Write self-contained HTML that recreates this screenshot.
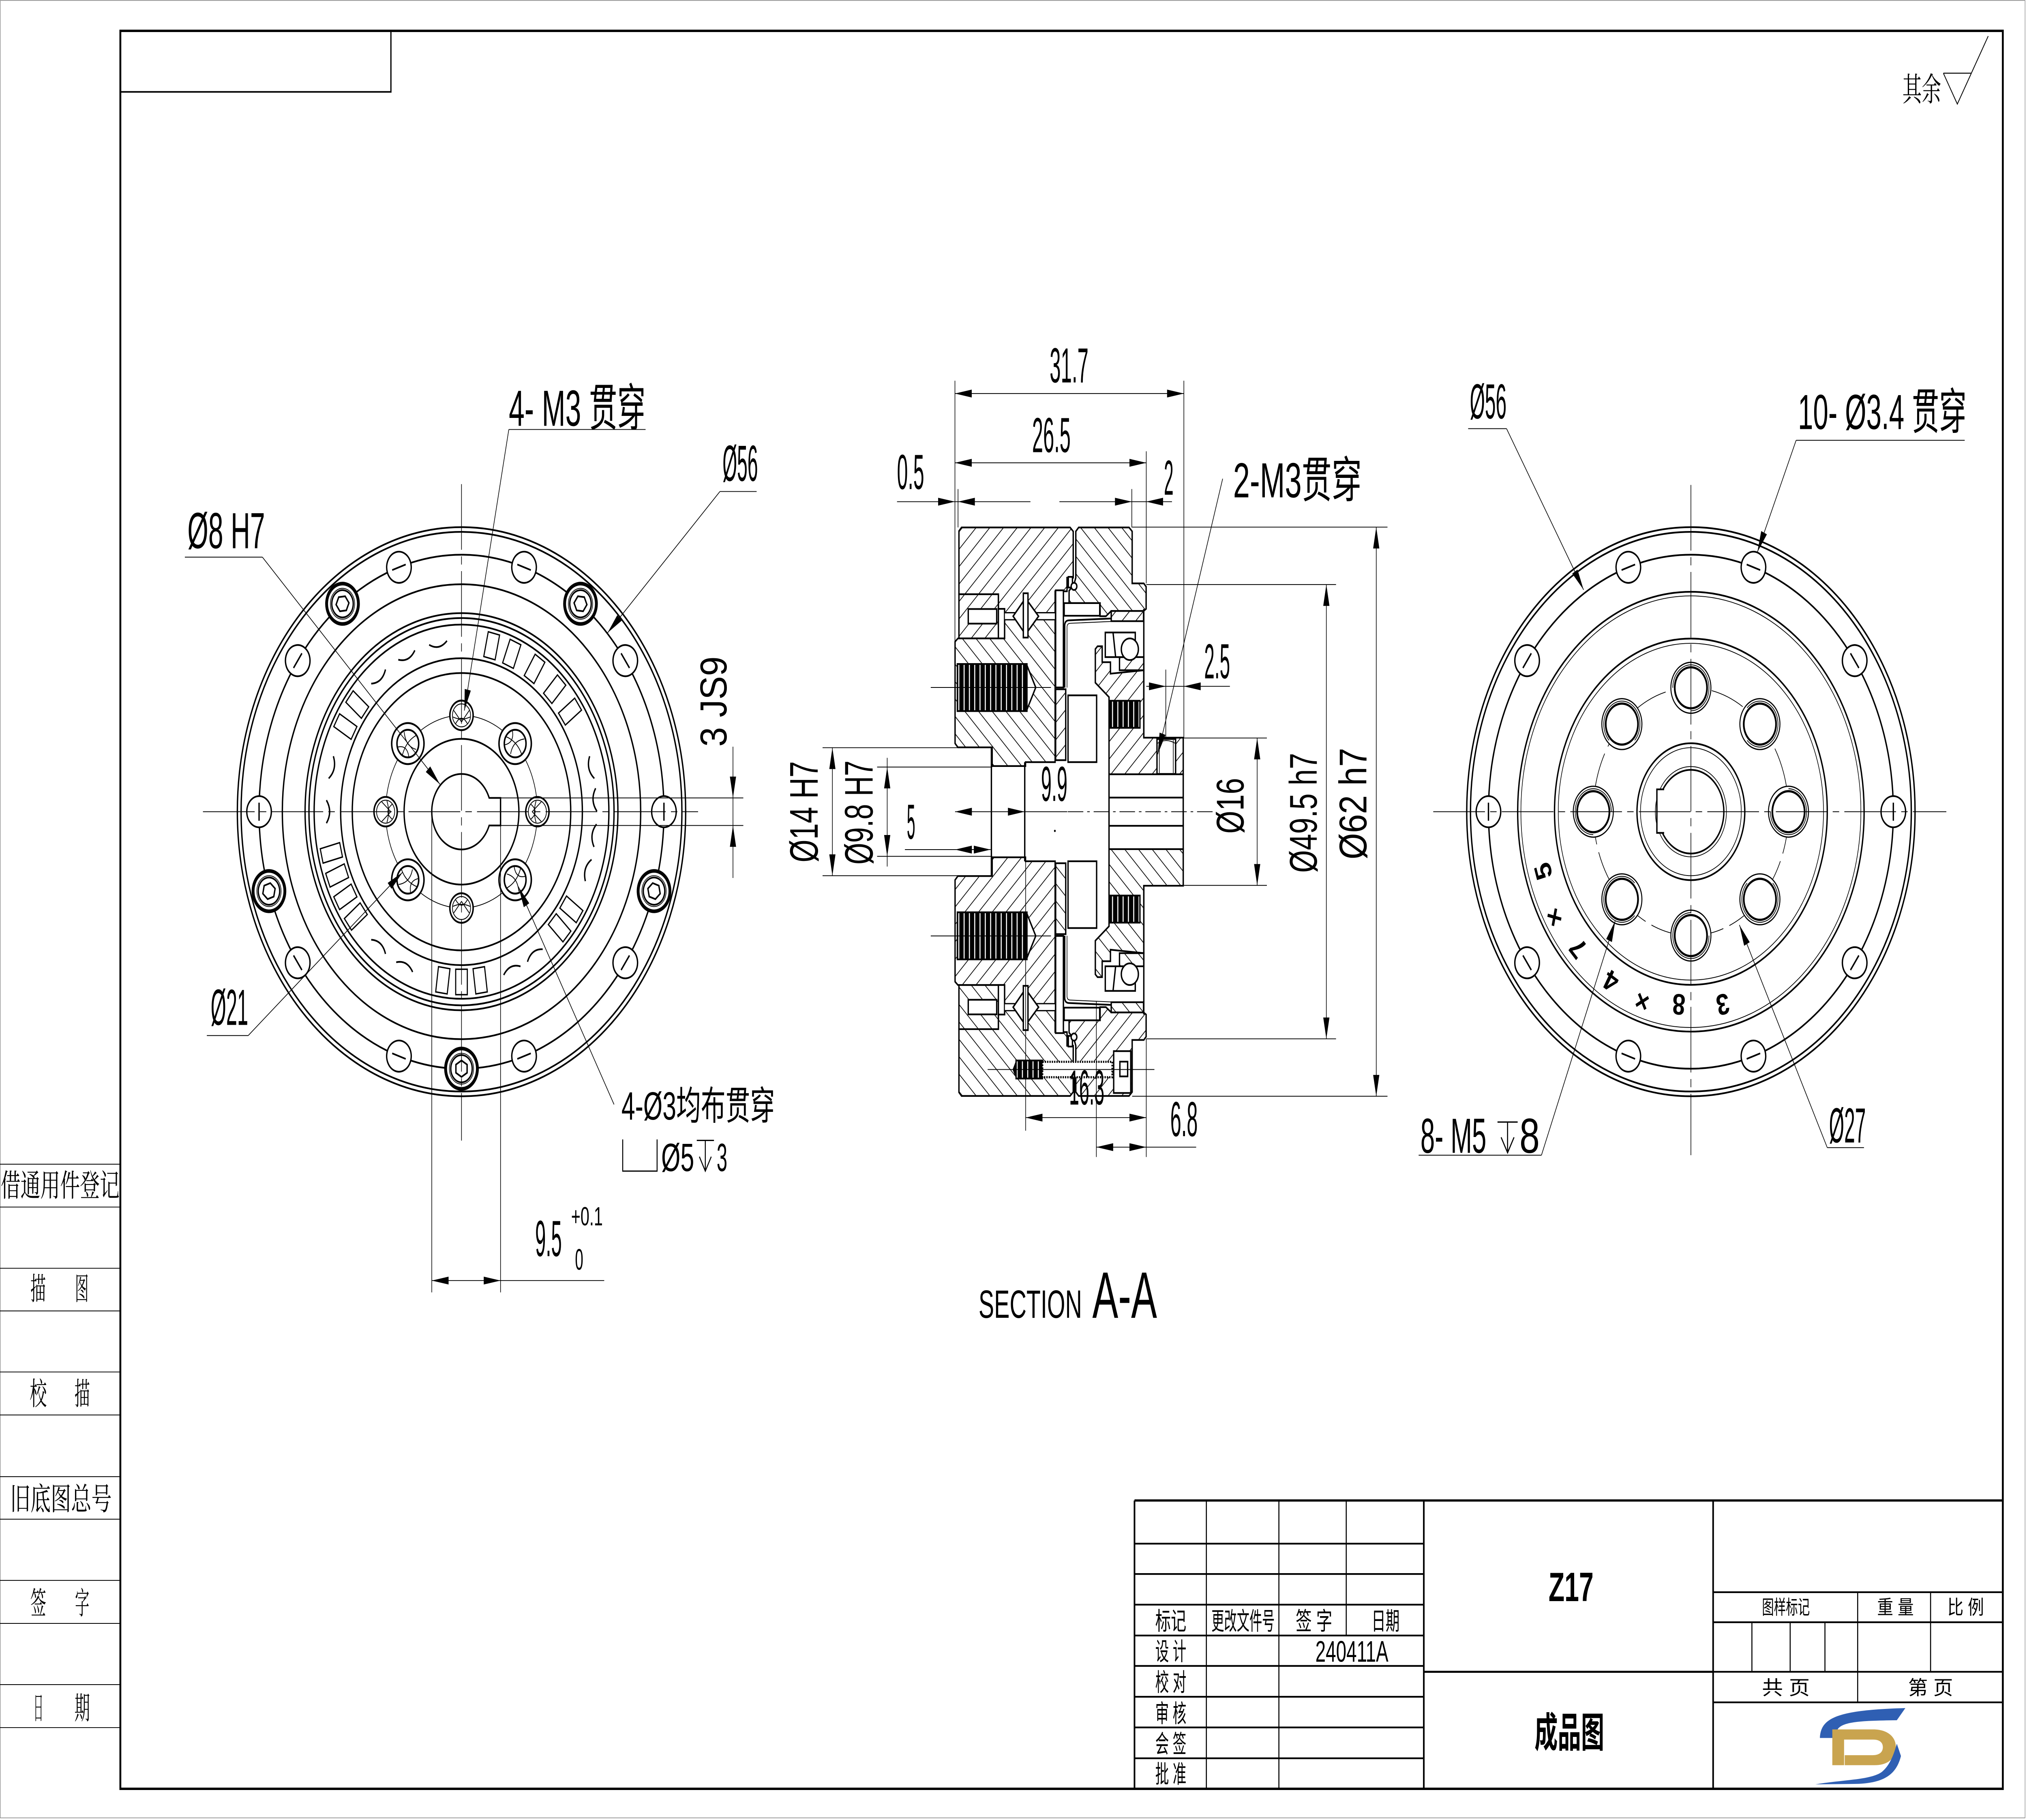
<!DOCTYPE html>
<html><head><meta charset="utf-8"><title>Z17 成品图</title>
<style>
html,body{margin:0;padding:0;background:#fff;width:100%;height:100%;overflow:hidden}
svg{display:block;width:100vw;height:100vh}
.k{stroke:#000;stroke-width:1.05}
.t{stroke:#000;stroke-width:0.48}
.c{stroke:#000;stroke-width:0.48;stroke-dasharray:40 4 5 4}
text{font-family:"Liberation Sans","Noto Sans CJK SC",sans-serif;fill:#000}
.s{font-family:"Noto Serif CJK SC","Liberation Serif",serif}
.j{font-family:"Liberation Sans","Noto Sans CJK SC",sans-serif}
.b{font-weight:bold}
</style></head><body>
<svg xmlns="http://www.w3.org/2000/svg" viewBox="0 0 1568 1109" preserveAspectRatio="none">
<defs>
<pattern id="hA" patternUnits="userSpaceOnUse" width="7.5" height="7.5" patternTransform="rotate(45)"><rect width="7.5" height="7.5" fill="#fff"/><line x1="3.75" y1="0" x2="3.75" y2="7.5" stroke="#000" stroke-width="0.5"/></pattern>
<pattern id="hB" patternUnits="userSpaceOnUse" width="7.5" height="7.5" patternTransform="rotate(-45)"><rect width="7.5" height="7.5" fill="#fff"/><line x1="3.75" y1="0" x2="3.75" y2="7.5" stroke="#000" stroke-width="0.5"/></pattern>
<pattern id="thr" patternUnits="userSpaceOnUse" width="4.1" height="60"><rect width="4.1" height="60" fill="#000"/><rect x="3.3" width="0.8" height="60" fill="#fff"/></pattern>
<g id="hole"><circle r="9.5" fill="#fff" stroke="#000" stroke-width="1.05"/><line x1="0" y1="-5.5" x2="0" y2="5.5" stroke="#000" stroke-width="1.05"/></g>
<g id="bolt"><circle r="12.3" fill="#fff" stroke="#000" stroke-width="2.2"/><circle r="9.4" fill="none" stroke="#000" stroke-width="0.5"/><circle r="8.3" fill="none" stroke="#000" stroke-width="1.05"/><polygon points="5,0 2.5,4.33 -2.5,4.33 -5,0 -2.5,-4.33 2.5,-4.33" fill="none" stroke="#000" stroke-width="1.05"/></g>
<g id="m3h"><circle r="9" fill="#fff" stroke="#000" stroke-width="1.15"/><circle r="7" fill="none" stroke="#000" stroke-width="0.55"/><path d="M-5,-4.5 Q1.5,0 -5,4.5 M-1,-6.6 Q-3.5,0 -1,6.6 M3,-6 L-4,0 L3,6" fill="none" stroke="#000" stroke-width="0.55"/></g>
<g id="cbh"><circle r="12.5" fill="#fff" stroke="#000" stroke-width="1.15"/><circle r="8.4" fill="none" stroke="#000" stroke-width="1.15"/><path d="M-6,-5 Q0,-1 4,-7 M-7,2 Q0,-2.5 7,3 M-2,-8 Q2,0 -1,8" fill="none" stroke="#000" stroke-width="0.55"/></g>
<rect id="rol" x="96" y="-4.5" width="15.5" height="9" fill="#fff" stroke="#000" stroke-width="0.85"/>
<path id="arq" d="M104.5,-7 Q99.5,0 104.5,7" fill="none" stroke="#000" stroke-width="1.05"/>
<g id="m5h"><circle r="15.5" fill="#fff" stroke="#000" stroke-width="0.75"/><circle r="12.5" fill="none" stroke="#000" stroke-width="1.35"/><path d="M0,-14 A14,14 0 1 1 -14,0" fill="none" stroke="#000" stroke-width="0.5"/></g>

<g id="st">
<path d="M741.8,323.6 L743.8,321.4 L827.8,321.4 L830.2,323.8 L830.2,352 L825.4,352 L825.4,360.3 L816.2,360.3 L816.2,373.5 L777.1,373.5 L777.1,371 L772.3,371 L772.3,362.1 L741.8,362.1 Z" fill="url(#hA)" class="k"/>
<rect x="741.8" y="362.1" width="30.5" height="26.9" fill="url(#hA)" class="k"/>
<rect x="749" y="371.1" width="22" height="8.9" fill="#fff" class="k"/>
<path d="M738.8,391 L741,389 L777.1,389 L777.1,377.5 L816.2,377.5 L816.2,464.4 L793.3,464.4 L793.3,466.8 L767.5,466.8 L767.5,455.4 L741,455.4 L738.8,453 Z" fill="url(#hB)" class="k"/>
<rect x="772.3" y="371" width="4.8" height="18" fill="#fff" class="k"/>
<rect x="777.1" y="373.5" width="39.1" height="4" fill="#fff" class="t"/>
<polygon points="783.7,375.5 793.3,364.5 803.4,375.5 793.3,386.6" fill="#fff" class="k"/>
<rect x="791.6" y="361.5" width="3.6" height="27" fill="#fff" class="k"/>
<rect x="740.6" y="404.6" width="53.8" height="28.7" fill="url(#thr)" class="k"/>
<polygon points="794.4,405.5 801.2,418.9 794.4,432.4" fill="#fff" class="k"/>
<path d="M832.2,323.8 L834.4,321.4 L873.4,321.4 L875.8,323.8 L875.8,355.5 L884.8,355.5 L886.6,357.5 L886.6,371 L884.6,372.3 L859.6,372.3 L855.5,375.5 L851,375.5 L851,367.5 L827,367.5 L827,360 L830.8,356 L832.2,352 Z" fill="url(#hB)" class="k"/>
<rect x="826.4" y="351.5" width="3.2" height="6.5" fill="#fff" class="k"/>
<circle cx="830.8" cy="357.3" r="2.2" fill="#fff" class="k"/>
<rect x="816.6" y="359.7" width="6" height="59.2" fill="#fff" class="k"/>
<rect x="816.6" y="420" width="7.8" height="43.2" fill="url(#hA)" class="k"/>
<rect x="823.2" y="367.5" width="27.5" height="7.7" fill="#fff" class="k"/>
<path d="M823.6,419 L823.6,381 Q823.8,378 827,378 L884.6,376" fill="none" class="k"/>
<path d="M825.4,419 L825.4,382 Q825.6,379.8 828,379.8 L884.6,377.8" fill="none" class="t"/>
<path d="M847.3,395.5 L849,393.8 L852.6,393.8 L852.6,403.5 L859,403.5 L859,410.5 L884.8,408.4 L884.8,449.5 L915.3,449.5 L915.3,471.8 L857.9,471.8 L857.9,424.8 L847.3,416 Z" fill="url(#hA)" class="k"/>
<rect x="858" y="427" width="23.8" height="16.5" fill="url(#thr)" class="k"/>
<rect x="859.6" y="372.3" width="25" height="6.2" fill="url(#hA)" class="k"/>
<rect x="866" y="400.4" width="18.8" height="8" fill="url(#hA)" class="k"/>
<rect x="855" y="385.4" width="23.2" height="15" fill="#fff" class="k"/>
<line x1="861" y1="385.4" x2="863" y2="400.4" class="k"/>
<circle cx="874" cy="395.6" r="6.6" fill="#fff" class="k"/>
<line x1="884.8" y1="371" x2="884.8" y2="449.5" class="k"/>
<rect x="826.2" y="423.7" width="22.1" height="40.7" fill="#fff" class="k"/>
<rect x="857.9" y="471.8" width="57.4" height="14.2" fill="#fff" class="k"/>
<line x1="766.9" y1="455.4" x2="766.9" y2="494.6" class="k"/>
<line x1="792.7" y1="464.4" x2="792.7" y2="494.6" class="k"/>
<line x1="857.9" y1="486" x2="857.9" y2="494.6" class="k"/>
<line x1="915.3" y1="486" x2="915.3" y2="494.6" class="k"/>
</g>
</defs>

<g fill="none">
<rect x="0.2" y="0.3" width="1566.3" height="1107.4" stroke="#777" stroke-width="0.35"/>
<rect x="93.1" y="18.8" width="1456.2" height="1071.2" stroke="#000" stroke-width="1.45"/>
<path d="M93.1,56 L302.4,56 L302.4,18.8" stroke="#000" stroke-width="0.95"/>

<g class="t" stroke-width="0.55">
<line x1="0" y1="709.4" x2="93" y2="709.4"/><line x1="0" y1="735.5" x2="93" y2="735.5"/>
<line x1="0" y1="772.8" x2="93" y2="772.8"/><line x1="0" y1="798.8" x2="93" y2="798.8"/>
<line x1="0" y1="836" x2="93" y2="836"/><line x1="0" y1="862.2" x2="93" y2="862.2"/>
<line x1="0" y1="899.8" x2="93" y2="899.8"/><line x1="0" y1="925.7" x2="93" y2="925.7"/>
<line x1="0" y1="963" x2="93" y2="963"/><line x1="0" y1="989.2" x2="93" y2="989.2"/>
<line x1="0" y1="1026.5" x2="93" y2="1026.5"/><line x1="0" y1="1052.7" x2="93" y2="1052.7"/>
</g>
<text class="s" x="0.5" y="729" font-size="19" textLength="92" lengthAdjust="spacingAndGlyphs">借通用件登记</text>
<text class="s" x="23.5" y="792" font-size="19" textLength="12" lengthAdjust="spacingAndGlyphs">描</text>
<text class="s" x="58" y="792" font-size="19" textLength="10.5" lengthAdjust="spacingAndGlyphs">图</text>
<text class="s" x="23" y="856" font-size="19" textLength="13.2" lengthAdjust="spacingAndGlyphs">校</text>
<text class="s" x="57.6" y="856" font-size="19" textLength="12" lengthAdjust="spacingAndGlyphs">描</text>
<text class="s" x="7.8" y="920" font-size="19" textLength="78.6" lengthAdjust="spacingAndGlyphs">旧底图总号</text>
<text class="s" x="23.5" y="983.5" font-size="19" textLength="12.3" lengthAdjust="spacingAndGlyphs">签</text>
<text class="s" x="58" y="983.5" font-size="19" textLength="11.1" lengthAdjust="spacingAndGlyphs">字</text>
<text class="s" x="25.9" y="1047.5" font-size="19" textLength="7.6" lengthAdjust="spacingAndGlyphs">日</text>
<text class="s" x="57.6" y="1047.5" font-size="19" textLength="12" lengthAdjust="spacingAndGlyphs">期</text>

<text class="s" x="1471.6" y="61.5" font-size="20" textLength="30" lengthAdjust="spacingAndGlyphs">其余</text>
<path d="M1503.3,44.6 L1524.8,44.6 M1503.3,44.6 L1514.1,63.4 L1538,22" stroke="#000" stroke-width="0.6"/>

<!-- LEFT VIEW -->
<g>
<circle cx="357" cy="494.6" r="173.4" class="k" stroke-width="1.2"/>
<circle cx="357" cy="494.6" r="170.5" class="k" stroke-width="1.15"/>
<circle cx="357" cy="494.6" r="156.6" class="k" stroke-width="0.8"/>
<circle cx="357" cy="494.6" r="138.6" class="k"/>
<circle cx="357" cy="494.6" r="121" class="k" stroke-width="1.15"/>
<circle cx="357" cy="494.6" r="118" class="k" stroke-width="1.15"/>
<circle cx="357" cy="494.6" r="114" class="k" stroke-width="1.55"/>
<circle cx="357" cy="494.6" r="93.5" class="k"/>
<circle cx="357" cy="494.6" r="84.5" class="k" stroke-width="1.45"/>
<circle cx="357" cy="494.6" r="58.7" class="t" stroke-width="0.65"/>
<circle cx="357" cy="494.6" r="44.4" class="k" stroke-width="1.45"/>
<use href="#rol" transform="translate(357 494.6) rotate(210)"/>
<use href="#rol" transform="translate(357 494.6) rotate(219)"/>
<use href="#rol" transform="translate(357 494.6) rotate(283)"/>
<use href="#rol" transform="translate(357 494.6) rotate(292)"/>
<use href="#rol" transform="translate(357 494.6) rotate(303)"/>
<use href="#rol" transform="translate(357 494.6) rotate(314)"/>
<use href="#rol" transform="translate(357 494.6) rotate(324)"/>
<use href="#rol" transform="translate(357 494.6) rotate(35)"/>
<use href="#rol" transform="translate(357 494.6) rotate(43)"/>
<use href="#rol" transform="translate(357 494.6) rotate(82)"/>
<use href="#rol" transform="translate(357 494.6) rotate(90)"/>
<use href="#rol" transform="translate(357 494.6) rotate(98)"/>
<use href="#rol" transform="translate(357 494.6) rotate(142)"/>
<use href="#rol" transform="translate(357 494.6) rotate(150)"/>
<use href="#rol" transform="translate(357 494.6) rotate(158)"/>
<use href="#rol" transform="translate(357 494.6) rotate(166)"/>
<use href="#arq" transform="translate(357 494.6) rotate(180)"/>
<use href="#arq" transform="translate(357 494.6) rotate(195)"/>
<use href="#arq" transform="translate(357 494.6) rotate(232)"/>
<use href="#arq" transform="translate(357 494.6) rotate(246)"/>
<use href="#arq" transform="translate(357 494.6) rotate(260)"/>
<use href="#arq" transform="translate(357 494.6) rotate(345)"/>
<use href="#arq" transform="translate(357 494.6) rotate(356)"/>
<use href="#arq" transform="translate(357 494.6) rotate(8)"/>
<use href="#arq" transform="translate(357 494.6) rotate(20)"/>
<use href="#arq" transform="translate(357 494.6) rotate(57)"/>
<use href="#arq" transform="translate(357 494.6) rotate(68)"/>
<use href="#arq" transform="translate(357 494.6) rotate(115)"/>
<use href="#arq" transform="translate(357 494.6) rotate(128)"/>
<use href="#hole" transform="rotate(0 357 494.6) translate(513.6 494.6)"/>
<use href="#hole" transform="rotate(36 357 494.6) translate(513.6 494.6)"/>
<use href="#hole" transform="rotate(72 357 494.6) translate(513.6 494.6)"/>
<use href="#hole" transform="rotate(108 357 494.6) translate(513.6 494.6)"/>
<use href="#hole" transform="rotate(144 357 494.6) translate(513.6 494.6)"/>
<use href="#hole" transform="rotate(180 357 494.6) translate(513.6 494.6)"/>
<use href="#hole" transform="rotate(216 357 494.6) translate(513.6 494.6)"/>
<use href="#hole" transform="rotate(252 357 494.6) translate(513.6 494.6)"/>
<use href="#hole" transform="rotate(288 357 494.6) translate(513.6 494.6)"/>
<use href="#hole" transform="rotate(324 357 494.6) translate(513.6 494.6)"/>
<use href="#bolt" transform="rotate(18 357 494.6) translate(513.6 494.6)"/>
<use href="#bolt" transform="rotate(90 357 494.6) translate(513.6 494.6)"/>
<use href="#bolt" transform="rotate(162 357 494.6) translate(513.6 494.6)"/>
<use href="#bolt" transform="rotate(234 357 494.6) translate(513.6 494.6)"/>
<use href="#bolt" transform="rotate(306 357 494.6) translate(513.6 494.6)"/>
<use href="#m3h" transform="rotate(0 357 494.6) translate(415.7 494.6)"/>
<use href="#m3h" transform="rotate(90 357 494.6) translate(415.7 494.6)"/>
<use href="#m3h" transform="rotate(180 357 494.6) translate(415.7 494.6)"/>
<use href="#m3h" transform="rotate(270 357 494.6) translate(415.7 494.6)"/>
<use href="#cbh" transform="rotate(45 357 494.6) translate(415.7 494.6)"/>
<use href="#cbh" transform="rotate(135 357 494.6) translate(415.7 494.6)"/>
<use href="#cbh" transform="rotate(225 357 494.6) translate(415.7 494.6)"/>
<use href="#cbh" transform="rotate(315 357 494.6) translate(415.7 494.6)"/>
<path d="M378.4,503 A23,23 0 1 1 378.4,486.2 L387.2,486.2 L387.2,503 Z" fill="#fff" class="k" stroke-width="1.45"/>
<line x1="357" y1="295" x2="357" y2="695" class="c"/>
<line x1="157" y1="494.6" x2="540" y2="494.6" class="c"/>
<line x1="387.2" y1="486.2" x2="575" y2="486.2" class="t"/>
<line x1="387.2" y1="503" x2="575" y2="503" class="t"/>
<line x1="567" y1="455" x2="567" y2="535" class="t"/>
<polygon points="567,486.2 564.6,473.2 569.4,473.2" fill="#000"/>
<polygon points="567,503 564.6,516 569.4,516" fill="#000"/>
<text transform="translate(562 455) rotate(-90)" font-size="29" textLength="55" lengthAdjust="spacingAndGlyphs">3 JS9</text>
<line x1="334" y1="496" x2="334" y2="787.5" class="t"/>
<line x1="387.2" y1="503" x2="387.2" y2="787.5" class="t"/>
<line x1="334" y1="780.3" x2="467.4" y2="780.3" class="t"/>
<polygon points="334,780.3 347,777.9 347,782.7" fill="#000"/>
<polygon points="387.2,780.3 374.2,777.9 374.2,782.7" fill="#000"/>
<text x="414" y="765.4" font-size="31" textLength="20.6" lengthAdjust="spacingAndGlyphs">9.5</text>
<text x="441.8" y="746.7" font-size="16" textLength="24.5" lengthAdjust="spacingAndGlyphs">+0.1</text>
<text x="444.8" y="773.7" font-size="18" textLength="6.4" lengthAdjust="spacingAndGlyphs">0</text>
<line x1="393.6" y1="261.7" x2="499.4" y2="261.7" class="t"/>
<line x1="393.6" y1="261.7" x2="359.2" y2="433" class="t"/>
<polygon points="359.2,433 364.2,420.8 359.5,419.8" fill="#000"/>
<text x="393.6" y="259.5" font-size="31" textLength="105.8" lengthAdjust="spacingAndGlyphs">4- M3 贯穿</text>
<line x1="556.9" y1="299.5" x2="585.3" y2="299.5" class="t"/>
<line x1="556.9" y1="299.5" x2="470" y2="385.6" class="t"/>
<polygon points="470,385.6 480.9,378.2 477.5,374.8" fill="#000"/>
<text x="558.9" y="293" font-size="31" textLength="27.4" lengthAdjust="spacingAndGlyphs">Ø56</text>
<line x1="143" y1="339.5" x2="203" y2="339.5" class="t"/>
<line x1="203" y1="339.5" x2="340.3" y2="477.9" class="t"/>
<polygon points="340.3,477.9 329.4,470.4 332.8,467" fill="#000"/>
<text x="145" y="334" font-size="31" textLength="60" lengthAdjust="spacingAndGlyphs">Ø8 H7</text>
<line x1="160" y1="631" x2="192" y2="631" class="t"/>
<line x1="192" y1="631" x2="311.4" y2="531.5" class="t"/>
<polygon points="311.4,531.5 302.9,541.6 299.9,538" fill="#000"/>
<text x="163" y="624.5" font-size="31" textLength="29" lengthAdjust="spacingAndGlyphs">Ø21</text>
<line x1="475" y1="673" x2="401" y2="540.3" class="t"/>
<polygon points="401,540.3 409.4,550.4 405.2,552.8" fill="#000"/>
<text x="480.7" y="682.2" font-size="24" textLength="118.7" lengthAdjust="spacingAndGlyphs">4-Ø3均布贯穿</text>
<path d="M481.7,694.3 L481.7,713.6 L508.3,713.6 L508.3,694.3" stroke="#000" stroke-width="0.75"/>
<text x="511.5" y="713.6" font-size="24" textLength="25.5" lengthAdjust="spacingAndGlyphs">Ø5</text>
<path d="M539,694.9 L552.3,694.9 M545.6,694.9 L545.6,713.6 M541,704.8 L545.6,713.6 L550.2,704.8" stroke="#000" stroke-width="0.75"/>
<text x="554.4" y="713.6" font-size="24" textLength="8.2" lengthAdjust="spacingAndGlyphs">3</text>
</g>

<!-- SECTION -->
<g>
<use href="#st"/>
<use href="#st" transform="matrix(1 0 0 -1 0 989.2)"/>
<rect x="895" y="450.3" width="14.4" height="21.3" fill="#fff" class="k"/>
<line x1="896.8" y1="451" x2="896.8" y2="471" class="t"/>
<line x1="907.6" y1="451" x2="907.6" y2="471" class="t"/>
<path d="M895.2,453 Q902.2,449.5 909.2,453" class="t"/>
<rect x="786" y="646.2" width="20.4" height="11" fill="url(#thr)" class="k"/>
<polygon points="783.3,651.7 786,646.2 786,657.2" fill="#000"/>
<rect x="806.4" y="647" width="54" height="9.4" fill="#fff" stroke="#000" stroke-width="1.3" stroke-dasharray="1 0.8"/>
<rect x="861.5" y="640.5" width="13.2" height="25.5" fill="#fff" class="k"/>
<rect x="866.3" y="646.9" width="6" height="9" fill="#fff" class="k"/>
<line x1="764" y1="651.7" x2="893" y2="651.7" class="t"/>
<line x1="720" y1="418.9" x2="813" y2="418.9" class="t"/>
<line x1="720" y1="570.3" x2="813" y2="570.3" class="t"/>
<line x1="826" y1="494.6" x2="940" y2="494.6" class="t" stroke-dasharray="12 3 2 3"/>
<circle cx="816" cy="506.3" r="0.7" fill="#000"/>
<g class="t">
<line x1="738.7" y1="232" x2="738.7" y2="391"/>
<line x1="741.1" y1="298" x2="741.1" y2="321.4"/>
<line x1="915.8" y1="232" x2="915.8" y2="449.5"/>
<line x1="886.7" y1="275" x2="886.7" y2="355.5"/>
<line x1="875.5" y1="298" x2="875.5" y2="321.4"/>
<line x1="901.8" y1="408" x2="901.8" y2="449.5"/>
<line x1="875.8" y1="321.2" x2="1073.3" y2="321.2"/>
<line x1="875.8" y1="668" x2="1073.3" y2="668"/>
<line x1="886.7" y1="356.2" x2="1033.5" y2="356.2"/>
<line x1="886.7" y1="633" x2="1033.5" y2="633"/>
<line x1="915.8" y1="449.7" x2="980" y2="449.7"/>
<line x1="915.8" y1="539.5" x2="980" y2="539.5"/>
<line x1="636.3" y1="455.6" x2="741" y2="455.6"/>
<line x1="636.3" y1="533.6" x2="741" y2="533.6"/>
<line x1="678.5" y1="467.4" x2="767.5" y2="467.4"/>
<line x1="678.5" y1="521.8" x2="767.5" y2="521.8"/>
<line x1="793.4" y1="525" x2="793.4" y2="689"/>
<line x1="886.7" y1="633" x2="886.7" y2="705"/>
<line x1="848.1" y1="610" x2="848.1" y2="705"/>
<line x1="738.7" y1="239.8" x2="915.8" y2="239.8"/>
<line x1="738.7" y1="282" x2="886.7" y2="282"/>
<line x1="693.9" y1="305.7" x2="797.1" y2="305.7"/>
<line x1="819.5" y1="305.7" x2="906.6" y2="305.7"/>
<line x1="886.7" y1="418.2" x2="951.4" y2="418.2"/>
<line x1="972.5" y1="449.7" x2="972.5" y2="539.5"/>
<line x1="1026" y1="356.2" x2="1026" y2="633"/>
<line x1="1064.6" y1="321.2" x2="1064.6" y2="668"/>
<line x1="643.9" y1="455.6" x2="643.9" y2="533.6"/>
<line x1="686.3" y1="461.8" x2="686.3" y2="528"/>
<line x1="738.8" y1="494.6" x2="825.6" y2="494.6"/>
<line x1="700" y1="517.7" x2="766.3" y2="517.7"/>
<line x1="793.4" y1="681" x2="886.7" y2="681"/>
<line x1="848.1" y1="699" x2="925.3" y2="699"/>
<line x1="945.8" y1="291.7" x2="895.6" y2="459.6"/>
</g>
<g fill="#000">
<polygon points="738.7,239.8 751.7,237.4 751.7,242.2"/><polygon points="915.8,239.8 902.8,237.4 902.8,242.2"/>
<polygon points="738.7,282 751.7,279.6 751.7,284.4"/><polygon points="886.7,282 873.7,279.6 873.7,284.4"/>
<polygon points="738.7,305.7 725.7,303.3 725.7,308.1"/><polygon points="741.1,305.7 754.1,303.3 754.1,308.1"/>
<polygon points="875.5,305.7 862.5,303.3 862.5,308.1"/><polygon points="886.7,305.7 899.7,303.3 899.7,308.1"/>
<polygon points="901.8,418.2 888.8,415.8 888.8,420.6"/><polygon points="915.8,418.2 928.8,415.8 928.8,420.6"/>
<polygon points="972.5,449.7 970.1,462.7 974.9,462.7"/><polygon points="972.5,539.5 970.1,526.5 974.9,526.5"/>
<polygon points="1026,356.2 1023.6,369.2 1028.4,369.2"/><polygon points="1026,633 1023.6,620 1028.4,620"/>
<polygon points="1064.6,321.2 1062.2,334.2 1067,334.2"/><polygon points="1064.6,668 1062.2,655 1067,655"/>
<polygon points="643.9,455.6 641.5,468.6 646.3,468.6"/><polygon points="643.9,533.6 641.5,520.6 646.3,520.6"/>
<polygon points="686.3,467.4 683.9,480.4 688.7,480.4"/><polygon points="686.3,521.8 683.9,508.8 688.7,508.8"/>
<polygon points="738.8,494.6 751.8,492.2 751.8,497"/><polygon points="792.7,494.6 779.7,492.2 779.7,497"/>
<polygon points="738.8,517.7 751.8,515.3 751.8,520.1"/><polygon points="766.3,517.7 753.3,515.3 753.3,520.1"/>
<polygon points="793.4,681 806.4,678.6 806.4,683.4"/><polygon points="886.7,681 873.7,678.6 873.7,683.4"/>
<polygon points="848.1,699 861.1,696.6 861.1,701.4"/><polygon points="886.7,699 873.7,696.6 873.7,701.4"/>
<polygon points="895.6,459.6 901.6,447.8 897,446.4"/>
</g>
<text x="812" y="233" font-size="30" textLength="30" lengthAdjust="spacingAndGlyphs">31.7</text>
<text x="798.4" y="275.5" font-size="30" textLength="29.8" lengthAdjust="spacingAndGlyphs">26.5</text>
<text x="693.9" y="298" font-size="30" textLength="21" lengthAdjust="spacingAndGlyphs">0.5</text>
<text x="900.4" y="301.5" font-size="30" textLength="7.4" lengthAdjust="spacingAndGlyphs">2</text>
<text x="953.9" y="303" font-size="30" textLength="99.5" lengthAdjust="spacingAndGlyphs">2-M3贯穿</text>
<text x="931.5" y="413.4" font-size="30" textLength="20" lengthAdjust="spacingAndGlyphs">2.5</text>
<text x="805.3" y="488" font-size="30" textLength="20.4" lengthAdjust="spacingAndGlyphs">9.9</text>
<text x="701.5" y="511.2" font-size="30" textLength="6.5" lengthAdjust="spacingAndGlyphs">5</text>
<text x="827" y="673" font-size="30" textLength="27.3" lengthAdjust="spacingAndGlyphs">16.3</text>
<text x="905.3" y="692.3" font-size="30" textLength="21.2" lengthAdjust="spacingAndGlyphs">6.8</text>
<text transform="translate(962 508) rotate(-90)" font-size="30" textLength="34" lengthAdjust="spacingAndGlyphs">Ø16</text>
<text transform="translate(1018.5 531.8) rotate(-90)" font-size="30" textLength="73" lengthAdjust="spacingAndGlyphs">Ø49.5 h7</text>
<text transform="translate(1057 523.7) rotate(-90)" font-size="30" textLength="68" lengthAdjust="spacingAndGlyphs">Ø62 h7</text>
<text transform="translate(632.6 525.5) rotate(-90)" font-size="31" textLength="61.7" lengthAdjust="spacingAndGlyphs">Ø14 H7</text>
<text transform="translate(675.1 526.8) rotate(-90)" font-size="31" textLength="63.4" lengthAdjust="spacingAndGlyphs">Ø9.8 H7</text>
<text x="757" y="803" font-size="24" textLength="80" lengthAdjust="spacingAndGlyphs">SECTION</text>
<text x="845" y="803" font-size="40" textLength="50" lengthAdjust="spacingAndGlyphs">A-A</text>
</g>

<!-- RIGHT VIEW -->
<g>
<circle cx="1308" cy="494.6" r="173.4" class="k" stroke-width="1.2"/>
<circle cx="1308" cy="494.6" r="170.5" class="k" stroke-width="1.15"/>
<circle cx="1308" cy="494.6" r="156.6" class="k" stroke-width="0.8"/>
<circle cx="1308" cy="494.6" r="134" class="k" stroke-width="1.15"/>
<circle cx="1308" cy="494.6" r="131.5" class="t"/>
<circle cx="1308" cy="494.6" r="105.5" class="k" stroke-width="1.15"/>
<circle cx="1308" cy="494.6" r="102.6" class="t"/>
<circle cx="1308" cy="494.6" r="75.5" class="t" stroke-width="0.65" stroke-dasharray="26 5"/>
<circle cx="1308" cy="494.6" r="41.7" class="k" stroke-width="1.25"/>
<circle cx="1308" cy="494.6" r="39" class="t"/>
<circle cx="1308" cy="494.6" r="27.5" class="t"/>
<circle cx="1308" cy="494.6" r="25.5" class="k" stroke-width="1.45"/>
<path d="M1287.3,481 L1281.7,481 L1281.7,507.5 L1287.3,507.5" fill="#fff" class="k"/>
<use href="#hole" transform="rotate(0 1308 494.6) translate(1464.6 494.6)"/>
<use href="#hole" transform="rotate(36 1308 494.6) translate(1464.6 494.6)"/>
<use href="#hole" transform="rotate(72 1308 494.6) translate(1464.6 494.6)"/>
<use href="#hole" transform="rotate(108 1308 494.6) translate(1464.6 494.6)"/>
<use href="#hole" transform="rotate(144 1308 494.6) translate(1464.6 494.6)"/>
<use href="#hole" transform="rotate(180 1308 494.6) translate(1464.6 494.6)"/>
<use href="#hole" transform="rotate(216 1308 494.6) translate(1464.6 494.6)"/>
<use href="#hole" transform="rotate(252 1308 494.6) translate(1464.6 494.6)"/>
<use href="#hole" transform="rotate(288 1308 494.6) translate(1464.6 494.6)"/>
<use href="#hole" transform="rotate(324 1308 494.6) translate(1464.6 494.6)"/>
<use href="#m5h" transform="rotate(0 1308 494.6) translate(1383.5 494.6)"/>
<use href="#m5h" transform="rotate(45 1308 494.6) translate(1383.5 494.6)"/>
<use href="#m5h" transform="rotate(90 1308 494.6) translate(1383.5 494.6)"/>
<use href="#m5h" transform="rotate(135 1308 494.6) translate(1383.5 494.6)"/>
<use href="#m5h" transform="rotate(180 1308 494.6) translate(1383.5 494.6)"/>
<use href="#m5h" transform="rotate(225 1308 494.6) translate(1383.5 494.6)"/>
<use href="#m5h" transform="rotate(270 1308 494.6) translate(1383.5 494.6)"/>
<use href="#m5h" transform="rotate(315 1308 494.6) translate(1383.5 494.6)"/>
<g font-size="18" font-weight="bold" text-anchor="middle" dominant-baseline="central">
<text transform="translate(1193.8 530.9) rotate(252)">5</text>
<text transform="translate(1202.3 559) rotate(238)">×</text>
<text transform="translate(1220.7 577.7) rotate(226)">7</text>
<text transform="translate(1246.2 597.9) rotate(211)">4</text>
<text transform="translate(1270.3 610.4) rotate(198)">×</text>
<text transform="translate(1298.7 612) rotate(184)">8</text>
<text transform="translate(1332.7 612) rotate(168)">3</text>
</g>
<line x1="1108.7" y1="494.6" x2="1505.6" y2="494.6" class="c"/>
<line x1="1308" y1="295.5" x2="1308" y2="703.9" class="c"/>
<g class="t">
<line x1="1135.7" y1="261.2" x2="1165.4" y2="261.2"/>
<line x1="1165.4" y1="261.2" x2="1225" y2="359.4"/>
<line x1="1389.4" y1="268.3" x2="1519.8" y2="268.3"/>
<line x1="1389.4" y1="268.3" x2="1359.4" y2="336.5"/>
<line x1="1097.4" y1="703.9" x2="1192.4" y2="703.9"/>
<line x1="1192.4" y1="703.9" x2="1249.5" y2="561"/>
<line x1="1413.5" y1="699.3" x2="1441.9" y2="699.3"/>
<line x1="1413.5" y1="699.3" x2="1345.5" y2="563.6"/>
</g>
<g fill="#000">
<polygon points="1225,359.4 1216.2,349.5 1220.3,347.1"/>
<polygon points="1359.4,336.5 1366.8,325.6 1362.4,323.6"/>
<polygon points="1249.5,561 1246.9,574 1242.5,572.2"/>
<polygon points="1345.5,563.6 1353.5,574.1 1349.2,576.3"/>
</g>
<text x="1137" y="255" font-size="30" textLength="28.4" lengthAdjust="spacingAndGlyphs">Ø56</text>
<text x="1390.8" y="261.5" font-size="30" textLength="130.4" lengthAdjust="spacingAndGlyphs">10- Ø3.4 贯穿</text>
<text x="1098.8" y="702.4" font-size="30" textLength="51" lengthAdjust="spacingAndGlyphs">8- M5</text>
<path d="M1158.4,683.7 L1174,683.7 M1166.2,683.7 L1166.2,702.4 M1161.2,693 L1166.2,702.4 L1171.2,693" stroke="#000" stroke-width="0.8"/>
<text x="1175.4" y="702.4" font-size="30" textLength="15.6" lengthAdjust="spacingAndGlyphs">8</text>
<text x="1414.9" y="696.2" font-size="30" textLength="28.4" lengthAdjust="spacingAndGlyphs">Ø27</text>
</g>

<!-- TITLE BLOCK -->
<g stroke="#000">
<line x1="877.6" y1="914.3" x2="1549.3" y2="914.3" stroke-width="1.35"/>
<line x1="877.6" y1="914.3" x2="877.6" y2="1090" stroke-width="1.25"/>
<line x1="1101.4" y1="914.3" x2="1101.4" y2="1090" stroke-width="1.25"/>
<line x1="1325.2" y1="914.3" x2="1325.2" y2="1090" stroke-width="1.25"/>
<g stroke-width="1.05">
<line x1="877.6" y1="940.6" x2="1101.4" y2="940.6"/>
<line x1="877.6" y1="959.1" x2="1101.4" y2="959.1"/>
<line x1="877.6" y1="977.8" x2="1101.4" y2="977.8"/>
<line x1="877.6" y1="996.6" x2="1101.4" y2="996.6"/>
<line x1="877.6" y1="1015.1" x2="1101.4" y2="1015.1"/>
<line x1="877.6" y1="1033.9" x2="1101.4" y2="1033.9"/>
<line x1="877.6" y1="1052.6" x2="1101.4" y2="1052.6"/>
<line x1="877.6" y1="1071.4" x2="1101.4" y2="1071.4"/>
<line x1="1101.4" y1="1018.7" x2="1325.2" y2="1018.7" stroke-width="1.25"/>
<line x1="1325.2" y1="970.2" x2="1549.3" y2="970.2"/>
<line x1="1325.2" y1="988.5" x2="1549.3" y2="988.5"/>
<line x1="1325.2" y1="1018.7" x2="1549.3" y2="1018.7"/>
<line x1="1325.2" y1="1037.3" x2="1549.3" y2="1037.3"/>
</g>
<g stroke-width="0.8">
<line x1="933.2" y1="914.3" x2="933.2" y2="1090"/>
<line x1="989.3" y1="914.3" x2="989.3" y2="1090"/>
<line x1="1041.4" y1="914.3" x2="1041.4" y2="996.6"/>
<line x1="1437" y1="970.2" x2="1437" y2="1037.3"/>
<line x1="1493.4" y1="970.2" x2="1493.4" y2="1018.7"/>
<line x1="1355.2" y1="988.5" x2="1355.2" y2="1018.7"/>
<line x1="1384.8" y1="988.5" x2="1384.8" y2="1018.7"/>
<line x1="1411.7" y1="988.5" x2="1411.7" y2="1018.7"/>
</g>
</g>
<g class="j">
<text x="893.7" y="993" font-size="15" textLength="24" lengthAdjust="spacingAndGlyphs">标记</text>
<text x="937.1" y="993" font-size="15" textLength="49" lengthAdjust="spacingAndGlyphs">更改文件号</text>
<text x="1002.3" y="993" font-size="15" textLength="28.3" lengthAdjust="spacingAndGlyphs">签 字</text>
<text x="1061" y="993" font-size="15" textLength="21.7" lengthAdjust="spacingAndGlyphs">日期</text>
<text x="893.7" y="1011.5" font-size="15" textLength="24" lengthAdjust="spacingAndGlyphs">设 计</text>
<text x="1017.5" y="1012.5" font-size="18" textLength="56.5" lengthAdjust="spacingAndGlyphs">240411A</text>
<text x="893.7" y="1030.3" font-size="15" textLength="24" lengthAdjust="spacingAndGlyphs">校 对</text>
<text x="893.7" y="1049.3" font-size="15" textLength="24" lengthAdjust="spacingAndGlyphs">审 核</text>
<text x="893.7" y="1067.9" font-size="15" textLength="24" lengthAdjust="spacingAndGlyphs">会 签</text>
<text x="893.7" y="1086.3" font-size="15" textLength="24" lengthAdjust="spacingAndGlyphs">批 准</text>
<text class="b" x="1197.9" y="975.6" font-size="25" textLength="34.8" lengthAdjust="spacingAndGlyphs">Z17</text>
<text class="b" x="1187" y="1064.5" font-size="25" textLength="54" lengthAdjust="spacingAndGlyphs">成品图</text>
<text x="1363" y="983.5" font-size="12" textLength="37" lengthAdjust="spacingAndGlyphs">图样标记</text>
<text x="1452.1" y="983.5" font-size="12" textLength="28.3" lengthAdjust="spacingAndGlyphs">重 量</text>
<text x="1506.4" y="983.5" font-size="12" textLength="28.3" lengthAdjust="spacingAndGlyphs">比 例</text>
<text x="1363" y="1032.5" font-size="12" textLength="37" lengthAdjust="spacingAndGlyphs">共 页</text>
<text x="1476" y="1032.5" font-size="12" textLength="34.8" lengthAdjust="spacingAndGlyphs">第 页</text>
</g>
<path d="M1407.8,1059 C1408.5,1047 1420,1042 1473.9,1040.8 L1467.3,1048.2 C1440,1048.5 1426,1049 1421.7,1053.5 L1420,1059 Z" fill="#2f5fb3"/>
<path d="M1417.4,1053.8 L1449,1053.8 C1461,1053.8 1467,1059 1466.5,1065 C1466,1072 1460,1075.6 1450,1075.6 L1427,1075.6 L1427,1069.5 L1448.5,1069.5 C1454,1069.5 1456.5,1067.5 1456.5,1064.6 C1456.5,1061.5 1453.5,1060 1449,1060 L1426.5,1060 L1426.5,1075.6 L1417.4,1075.6 Z" fill="#c9a44f"/>
<path d="M1404.3,1087.3 C1425,1084.5 1448,1084.6 1456,1079.5 C1462,1075.5 1465,1069 1467.3,1062.5 L1470.5,1070 C1467,1081 1458,1086.5 1436,1087 Z" fill="#2f5fb3"/>
</g>
</svg>
</body></html>
